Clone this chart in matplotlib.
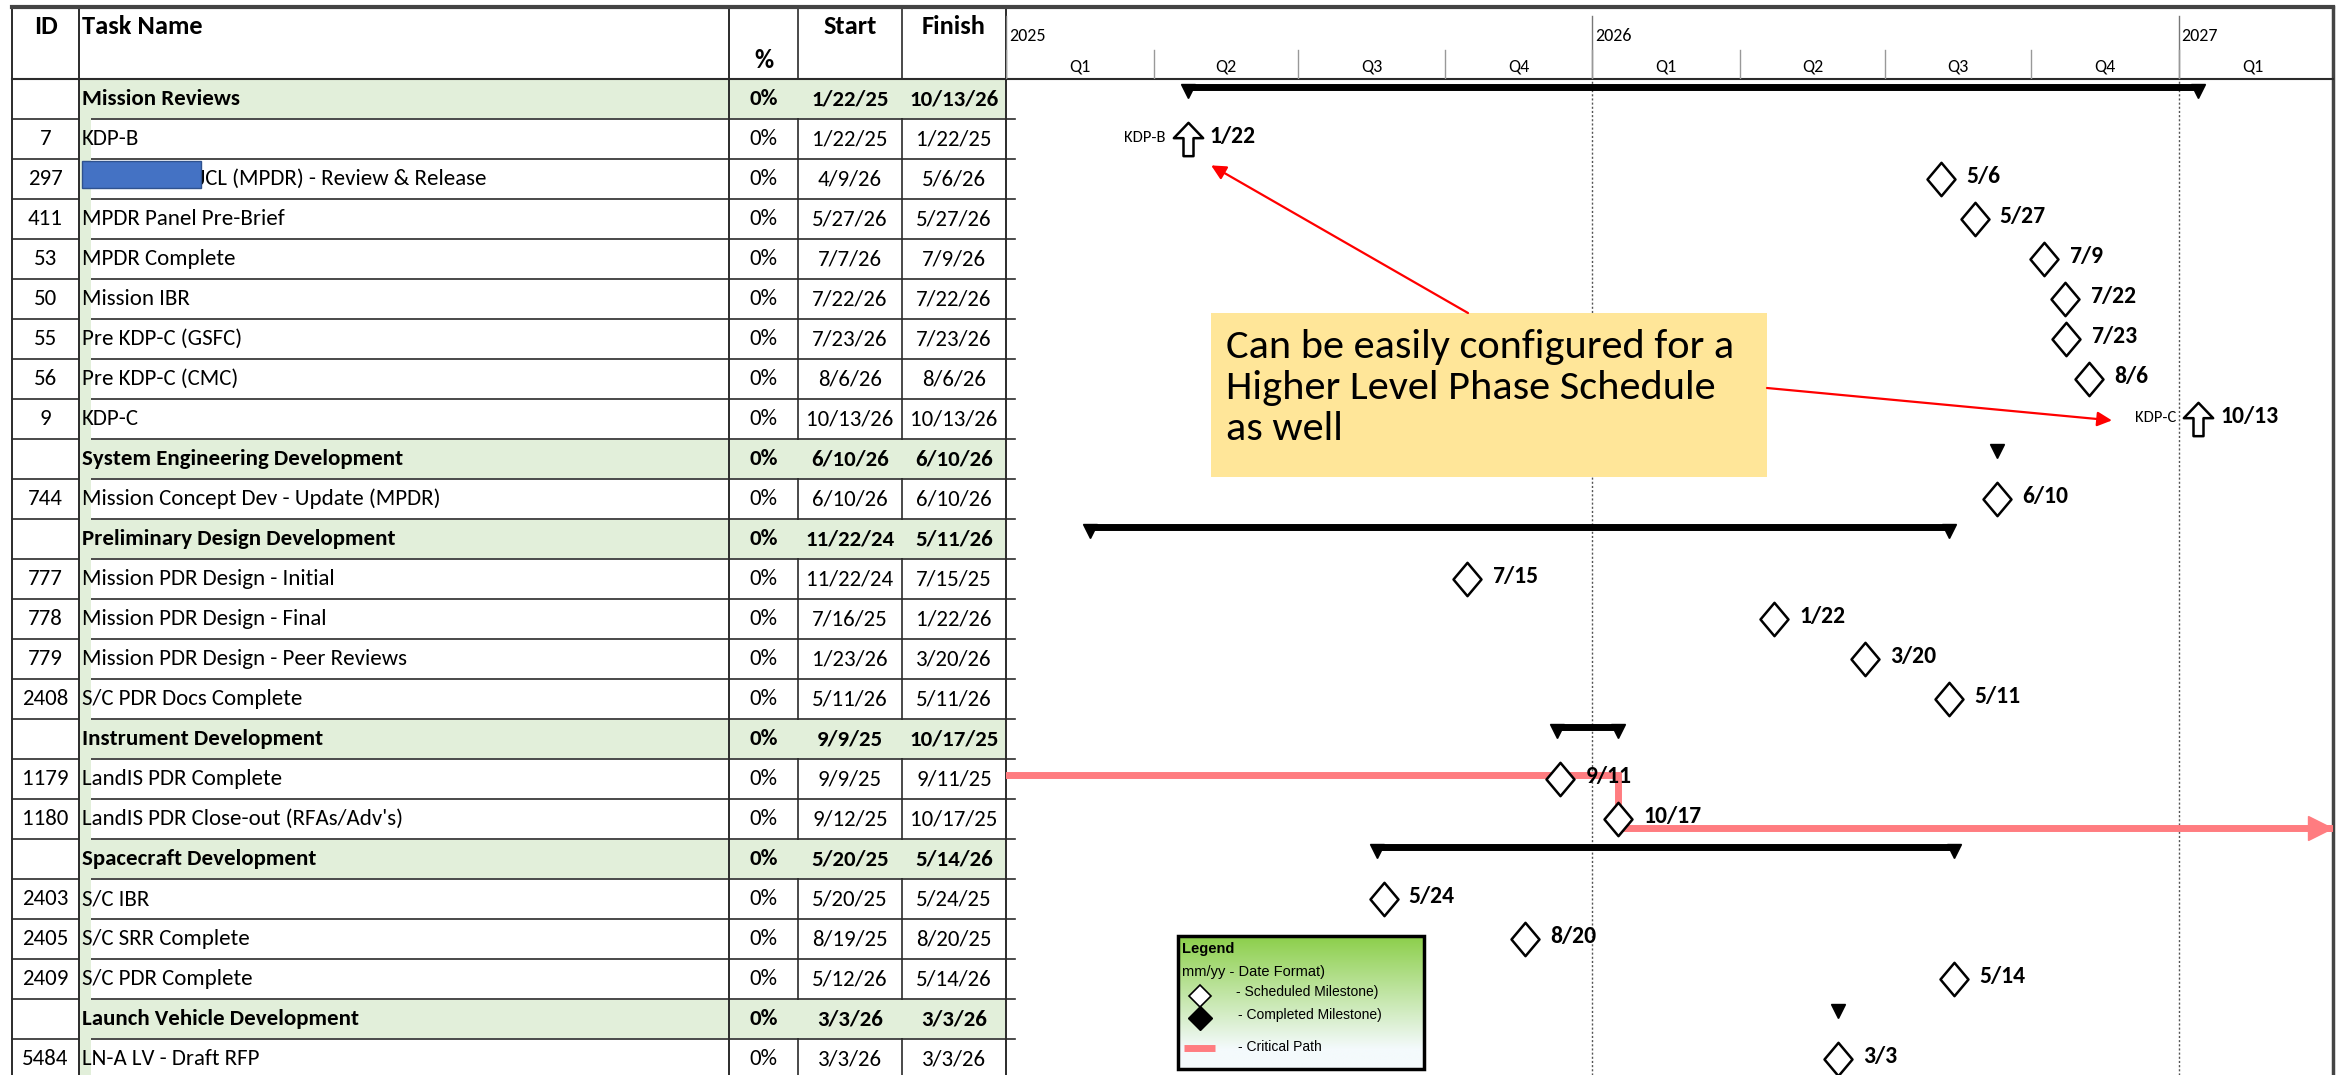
import matplotlib
matplotlib.use("Agg")
import matplotlib.pyplot as plt
import matplotlib.dates as mdates
import matplotlib.transforms as mtrans
from matplotlib.patches import Rectangle
from matplotlib.path import Path
import numpy as np
from datetime import datetime

# ---- data ----
ids = ["", "7", "297", "411", "53", "50", "55", "56", "9", "", "744", "", "777", "778",
       "779", "2408", "", "1179", "1180", "", "2403", "2405", "2409", "", "5484"]
names = ["Mission Reviews", "KDP-B", "JCL (MPDR) - Review & Release", "MPDR Panel Pre-Brief",
         "MPDR Complete", "Mission IBR", "Pre KDP-C (GSFC)", "Pre KDP-C (CMC)", "KDP-C",
         "System Engineering Development", "Mission Concept Dev - Update (MPDR)",
         "Preliminary Design Development", "Mission PDR Design - Initial",
         "Mission PDR Design - Final", "Mission PDR Design - Peer Reviews",
         "S/C PDR Docs Complete", "Instrument Development", "LandIS PDR Complete",
         "LandIS PDR Close-out (RFAs/Adv's)", "Spacecraft Development", "S/C IBR",
         "S/C SRR Complete", "S/C PDR Complete", "Launch Vehicle Development",
         "LN-A LV - Draft RFP"]
pct = ["0%"] * len(ids)
starts = ["1/22/25", "1/22/25", "4/9/26", "5/27/26", "7/7/26", "7/22/26", "7/23/26", "8/6/26",
          "10/13/26", "6/10/26", "6/10/26", "11/22/24", "11/22/24", "7/16/25", "1/23/26",
          "5/11/26", "9/9/25", "9/9/25", "9/12/25", "5/20/25", "5/20/25", "8/19/25",
          "5/12/26", "3/3/26", "3/3/26"]
finishes = ["10/13/26", "1/22/25", "5/6/26", "5/27/26", "7/9/26", "7/22/26", "7/23/26",
            "8/6/26", "10/13/26", "6/10/26", "6/10/26", "5/11/26", "7/15/25", "1/22/26",
            "3/20/26", "5/11/26", "10/17/25", "9/11/25", "10/17/25", "5/14/26", "5/24/25",
            "8/20/25", "5/14/26", "3/3/26", "3/3/26"]
summary = [True, False, False, False, False, False, False, False, False, True, False, True,
           False, False, False, False, True, False, False, True, False, False, False, True, False]
kdp_names = {"7": "KDP-B", "9": "KDP-C"}
critical_ids = ["1179", "1180"]
fy_starts = ["10/1/24", "10/1/25", "10/1/26"]
fy_labels = ["2025", "2026", "2027"]
quarter_starts = ["10/1/24", "1/1/25", "4/1/25", "7/1/25", "10/1/25", "1/1/26", "4/1/26",
                  "7/1/26", "10/1/26", "1/1/27"]
quarter_labels = ["Q1", "Q2", "Q3", "Q4", "Q1", "Q2", "Q3", "Q4", "Q1"]
x_range = ["10/1/24", "1/5/27"]


def d(s):
    return mdates.date2num(datetime.strptime(s, "%m/%d/%y"))


def md(s):
    t = datetime.strptime(s, "%m/%d/%y")
    return f"{t.month}/{t.day}"


CAL = ["Carlito", "PT Sans Narrow", "DejaVu Sans"]
ARIAL = ["Liberation Sans", "DejaVu Sans"]
plt.rcParams["font.family"] = CAL

W, H = 2338, 1075
TOP, HDR_B, ROW_H = 7, 79, 40
C_L, C_TASK, C_PCT, C_START, C_FIN, C_G, C_R = 12, 79, 729, 798, 902, 1006, 2333
GREEN = "#E2EFDA"
LINE = "#2b2b2b"
FS = 16.5
FSH = 19

fig = plt.figure(figsize=(W / 100, H / 100), dpi=100)
fig.patch.set_facecolor("white")

# ---- table axes (pixel coords) ----
ax_t = fig.add_axes([0, 0, 1, 1])
ax_t.set_xlim(0, W)
ax_t.set_ylim(H, 0)
ax_t.axis("off")

n = len(ids)
for i in range(n):
    top = HDR_B + ROW_H * i
    yc = top + ROW_H / 2
    ax_t.plot([C_L, C_G + 9], [top + ROW_H] * 2, color=LINE, lw=1.2, zorder=0.5)
    if summary[i]:
        ax_t.add_patch(Rectangle((C_TASK, top + 1), C_G - C_TASK, ROW_H - 2, fc=GREEN,
                                 ec="none", zorder=1))
    w = "bold" if summary[i] else "normal"
    ax_t.text((C_L + C_TASK) / 2, yc, ids[i], ha="center", va="center", fontsize=FS, zorder=4)
    tx = C_TASK + 3
    if ids[i] == "297":
        tx = C_TASK + 119
        ax_t.add_patch(Rectangle((C_TASK + 3, top + 2), 119, 27, fc="#4472C4", ec="#2F528F",
                                 lw=1, zorder=5))
    ax_t.text(tx, yc, names[i], ha="left", va="center", fontsize=FS, weight=w, zorder=4)
    ax_t.text((C_PCT + C_START) / 2, yc, pct[i], ha="center", va="center", fontsize=FS,
              weight=w, zorder=4)
    ax_t.text((C_START + C_FIN) / 2, yc, starts[i], ha="center", va="center", fontsize=FS,
              weight=w, zorder=4)
    ax_t.text((C_FIN + C_G) / 2, yc, finishes[i], ha="center", va="center", fontsize=FS,
              weight=w, zorder=4)

# green indent strip
ax_t.add_patch(Rectangle((C_TASK, HDR_B), 12, H - HDR_B, fc=GREEN, ec="none", zorder=1.5))
# column lines
for x in [C_START, C_FIN]:
    ax_t.plot([x, x], [TOP, H], color=LINE, lw=1.2, zorder=0.5)
for x in [C_L, C_TASK, C_PCT, C_G]:
    ax_t.plot([x, x], [TOP, H], color=LINE, lw=1.4, zorder=3)
ax_t.plot([C_R, C_R], [TOP, H], color="#444444", lw=2.5, zorder=3)
ax_t.plot([C_L, C_R], [TOP, TOP], color="#444444", lw=3, zorder=3)
ax_t.plot([C_L, C_R], [HDR_B, HDR_B], color=LINE, lw=1.5, zorder=3)

# header text
ax_t.text((C_L + C_TASK) / 2, 26, "ID", ha="center", va="center", fontsize=FSH, weight="bold")
ax_t.text(C_TASK + 3, 26, "Task Name", ha="left", va="center", fontsize=FSH, weight="bold")
ax_t.text((C_PCT + C_START) / 2, 60, "%", ha="center", va="center", fontsize=FSH,
          weight="bold")
ax_t.text((C_START + C_FIN) / 2, 26, "Start", ha="center", va="center", fontsize=FSH,
          weight="bold")
ax_t.text((C_FIN + C_G) / 2, 26, "Finish", ha="center", va="center", fontsize=FSH,
          weight="bold")

# ---- timescale header ----
ax_h = fig.add_axes([C_G / W, (H - HDR_B) / H, (C_R - C_G) / W, (HDR_B - TOP) / H])
ax_h.set_xlim(d(x_range[0]), d(x_range[1]))
ax_h.set_ylim(HDR_B, TOP)
ax_h.axis("off")
for s, lab in zip(fy_starts, fy_labels):
    ax_h.plot([d(s)] * 2, [16, HDR_B], color="#777777", lw=1)
    ax_h.annotate(lab, (d(s), 36), xytext=(2, 0), textcoords="offset points", ha="left",
                  va="center", fontsize=13)
for k, lab in enumerate(quarter_labels):
    a, b = d(quarter_starts[k]), d(quarter_starts[k + 1])
    ax_h.plot([a, a], [50, HDR_B], color="#999999", lw=1)
    ax_h.text((a + b) / 2, 66, lab, ha="center", va="center", fontsize=13)

# ---- gantt ----
gh = (H - HDR_B) / ROW_H
ax_g = fig.add_axes([C_G / W, 0, (C_R - C_G) / W, (H - HDR_B) / H])
ax_g.set_xlim(d(x_range[0]), d(x_range[1]))
ax_g.set_ylim(gh - 0.5, -0.5)
ax_g.axis("off")

for s in fy_starts[1:]:
    ax_g.axvline(d(s), color="#555555", lw=1, ls=(0, (1.5, 1.5)), zorder=0.5)

arrow_marker = Path([(0, 1), (0.88, 0.08), (0.3, 0.08), (0.3, -1), (-0.3, -1), (-0.3, 0.08),
                     (-0.88, 0.08), (0, 1)], closed=True)
diamond_marker = Path([(0, 1), (0.84, 0), (0, -1), (-0.84, 0), (0, 1)], closed=True)

for i in range(n):
    s, f = d(starts[i]), d(finishes[i])
    if summary[i]:
        if f > s:
            ax_g.plot([s, f], [i - 0.3] * 2, color="black", lw=5, solid_capstyle="butt",
                      zorder=3)
            ax_g.plot([s, f], [i - 0.2] * 2, "v", ms=10, color="black", zorder=3)
        else:
            ax_g.plot([s], [i - 0.2], "v", ms=10, color="black", zorder=3)
    elif ids[i] in kdp_names:
        ax_g.plot([f], [i], marker=arrow_marker, ms=24, mfc="white", mec="black", mew=1.8,
                  zorder=4)
        ax_g.annotate(kdp_names[ids[i]], (f, i), xytext=(-16, 1), textcoords="offset points",
                      ha="right", va="center", fontsize=12)
        ax_g.annotate(md(finishes[i]), (f, i), xytext=(16, 2), textcoords="offset points",
                      ha="left", va="center", fontsize=17, weight="bold")
    else:
        ax_g.plot([f], [i], marker=diamond_marker, ms=24, mfc="white", mec="black", mew=1.8,
                  zorder=4)
        ax_g.annotate(md(finishes[i]), (f, i), xytext=(18, 2), textcoords="offset points",
                      ha="left", va="center", fontsize=17, weight="bold", zorder=4)

# critical path
CRIT = "#FF7C80"
r1 = ids.index(critical_ids[0])
r2 = ids.index(critical_ids[1])
xc = d(finishes[r2])
bl = mtrans.blended_transform_factory(ax_g.transAxes, ax_g.transData)
ax_g.plot([d(x_range[0]), xc, xc], [r1 - 0.1, r1 - 0.1, r2 + 0.22], color=CRIT, lw=5,
          solid_joinstyle="miter", zorder=2)
ax_g.plot([xc, d(x_range[1])], [r2 + 0.22] * 2, color=CRIT, lw=5, zorder=2)
ax_g.plot([0.99], [r2 + 0.22], ">", ms=17, color=CRIT, transform=bl, zorder=2,
          clip_on=False)

# ---- overlay: callout + legend ----
ax_o = fig.add_axes([0, 0, 1, 1])
ax_o.set_xlim(0, W)
ax_o.set_ylim(H, 0)
ax_o.axis("off")

ax_o.add_patch(Rectangle((1211, 313), 556, 164, fc="#FFE699", ec="none", zorder=5))
ax_o.text(1226, 388, "Can be easily configured for a\nHigher Level Phase Schedule\nas well",
          ha="left", va="center", fontsize=30.5, linespacing=1.18, zorder=6)

kb = ids.index("7")
kc = ids.index("9")
ax_o.annotate("", xy=(d(finishes[kb]), kb),
              xycoords=mtrans.offset_copy(ax_g.transData, fig, x=17, y=-19, units="points"),
              xytext=(1468, 313), textcoords="data",
              arrowprops=dict(arrowstyle="-|>", color="#FF0000", lw=1.6, mutation_scale=22,
                              shrinkA=0, shrinkB=0), zorder=6)
ax_o.annotate("", xy=(d(finishes[kc]), kc),
              xycoords=mtrans.offset_copy(ax_g.transData, fig, x=-62, y=-1, units="points"),
              xytext=(1767, 388), textcoords="data",
              arrowprops=dict(arrowstyle="-|>", color="#FF0000", lw=1.6, mutation_scale=22,
                              shrinkA=0, shrinkB=0), zorder=6)

# legend box with green gradient
grad = np.linspace(0, 1, 256)[:, None]
g0 = np.array([0x8C, 0xCF, 0x4A]) / 255
g1 = np.array([0xF4, 0xFA, 0xFC]) / 255
t = np.clip(grad / 0.85, 0, 1)
img = (g0[None, None, :] * (1 - t[..., None]) + g1[None, None, :] * t[..., None])
ax_o.imshow(img, extent=[1178, 1424, 1069, 936], aspect="auto", zorder=5, origin="upper")
ax_o.add_patch(Rectangle((1178, 936), 246, 133, fc="none", ec="black", lw=2.5, zorder=6))
ax_o.set_xlim(0, W)
ax_o.set_ylim(H, 0)
ax_o.text(1182, 949, "Legend", ha="left", va="center", fontsize=10.5, weight="bold",
          family=ARIAL, zorder=7)
ax_o.text(1182, 972, "mm/yy - Date Format)", ha="left", va="center", fontsize=10.5,
          family=ARIAL, zorder=7)
ax_o.plot([1200], [996], "D", ms=11, mfc="white", mec="black", mew=1.2, zorder=7)
ax_o.text(1236, 992, "- Scheduled Milestone)", ha="left", va="center", fontsize=10,
          family=ARIAL, zorder=7)
ax_o.plot([1200], [1018], "D", ms=12, mfc="black", mec="black", zorder=7)
ax_o.text(1238, 1015, "- Completed Milestone)", ha="left", va="center", fontsize=10,
          family=ARIAL, zorder=7)
ax_o.plot([1184, 1215], [1048, 1048], color=CRIT, lw=5, solid_capstyle="butt", zorder=7)
ax_o.text(1238, 1047, "- Critical Path", ha="left", va="center", fontsize=10,
          family=ARIAL, zorder=7)

fig.savefig("out.png", dpi=100)
